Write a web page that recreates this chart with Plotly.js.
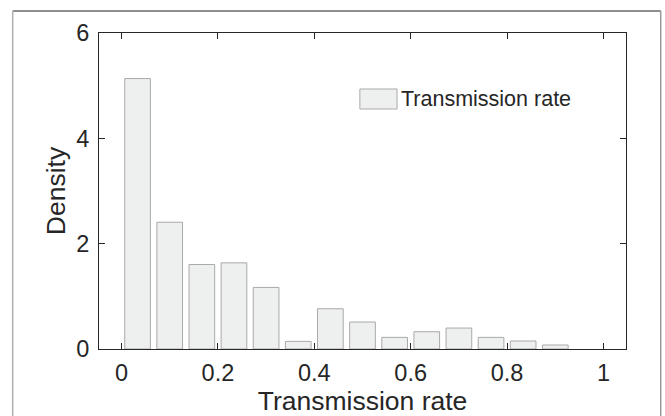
<!DOCTYPE html>
<html>
<head>
<meta charset="utf-8">
<script src="https://cdn.plot.ly/plotly-3.0.1.min.js"></script>
<style>html,body{margin:0;padding:0;background:#fff;}#chart{width:665px;height:416px;}</style>
</head>
<body>
<div id="chart"></div>
<script>
// Bin centers (bin width 1/15) and density values
var binCenters = [0.0333, 0.1, 0.1667, 0.2333, 0.3, 0.3667, 0.4333, 0.5, 0.5667, 0.6333, 0.7, 0.7667, 0.8333, 0.9];
var density = [5.135, 2.407, 1.604, 1.636, 1.169, 0.145, 0.764, 0.512, 0.221, 0.328, 0.398, 0.221, 0.152, 0.076];
var seriesName = "Transmission rate";
var xTickVals = [0, 0.2, 0.4, 0.6, 0.8, 1];
var xTickText = ["0", "0.2", "0.4", "0.6", "0.8", "1"];
var yTickVals = [0, 2, 4, 6];
var yTickText = ["0", "2", "4", "6"];
var xTitle = "Transmission rate";
var yTitle = "Density";

var FONT = "'Liberation Sans', Arial, Helvetica, sans-serif";
var fillC = "#eef0ef";
var edgeC = "#a9a9a9";
var axC = "#262626";

var trace = {
  type: "bar",
  x: binCenters,
  y: density,
  name: seriesName,
  marker: {color: fillC, line: {color: edgeC, width: 1}},
  showlegend: false,
  hoverinfo: "skip"
};

var layout = {
  width: 665, height: 416,
  margin: {l: 99, r: 39, t: 33, b: 67, pad: 0},
  paper_bgcolor: "#ffffff", plot_bgcolor: "#ffffff",
  bargap: 0.2,
  font: {family: FONT, color: axC},
  xaxis: {
    range: [-0.0467, 1.0467],
    tickmode: "array", tickvals: xTickVals, ticktext: xTickText,
    ticks: "inside", ticklen: 6, tickwidth: 1, tickcolor: axC,
    showline: true, linecolor: axC, linewidth: 1, mirror: "ticks",
    showgrid: false, zeroline: false,
    tickfont: {family: FONT, size: 23.5, color: axC},
    ticklabelstandoff: 3,
    title: {text: xTitle, font: {family: FONT, size: 26.5, color: axC}, standoff: 6}
  },
  yaxis: {
    range: [0, 6],
    tickmode: "array", tickvals: yTickVals, ticktext: yTickText,
    ticks: "inside", ticklen: 6, tickwidth: 1, tickcolor: axC,
    showline: true, linecolor: axC, linewidth: 1, mirror: "ticks",
    showgrid: false, zeroline: false,
    tickfont: {family: FONT, size: 23.5, color: axC},
    ticklabelstandoff: 4,
    title: {text: yTitle, font: {family: FONT, size: 26.5, color: axC}, standoff: 2}
  },
  shapes: [
    // legend patch
    {type: "rect", xref: "paper", yref: "paper", x0: 0.495, x1: 0.5655, y0: 0.7595, y1: 0.8228,
     fillcolor: fillC, line: {color: edgeC, width: 1}},
    // outer figure frame
    {type: "line", xref: "paper", yref: "paper", x0: -0.1638, x1: 1.0659, y0: 1.07, y1: 1.07,
     line: {color: "#6a6a6a", width: 1.5}},
    {type: "line", xref: "paper", yref: "paper", x0: -0.1638, x1: -0.1638, y0: 1.07, y1: -0.25,
     line: {color: "#b0b0b0", width: 1.5}},
    {type: "line", xref: "paper", yref: "paper", x0: 1.0659, x1: 1.0659, y0: 1.07, y1: -0.25,
     line: {color: "#9a9a9a", width: 1.5}}
  ],
  annotations: [
    {xref: "paper", yref: "paper", x: 0.569, y: 0.791, xanchor: "left", yanchor: "middle",
     text: seriesName, showarrow: false, font: {family: FONT, size: 21.5, color: axC}}
  ]
};

Plotly.newPlot("chart", [trace], layout, {staticPlot: true, displayModeBar: false});
</script>
</body>
</html>
